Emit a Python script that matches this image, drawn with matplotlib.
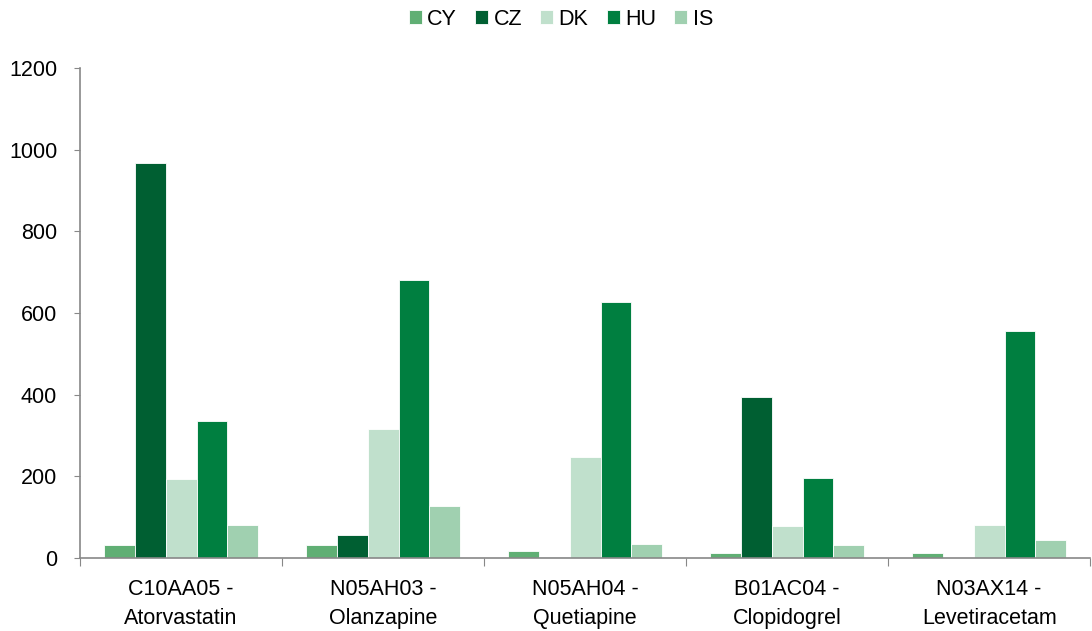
import numpy as np
import matplotlib.pyplot as plt

plt.rcParams['font.family'] = ['Liberation Sans', 'DejaVu Sans']

categories = ["C10AA05 -\nAtorvastatin", "N05AH03 -\nOlanzapine", "N05AH04 -\nQuetiapine",
              "B01AC04 -\nClopidogrel", "N03AX14 -\nLevetiracetam"]
countries = ["CY", "CZ", "DK", "HU", "IS"]
cy = [32, 32, 18, 12, 12]
cz = [968, 56, 3, 395, 0]
dk = [193, 315, 247, 78, 80]
hu = [335, 680, 628, 197, 557]
is_ = [80, 127, 34, 32, 44]
series = [cy, cz, dk, hu, is_]
colors = ["#60AF74", "#005F32", "#C0E0CC", "#007F40", "#A0D0B0"]

fig = plt.figure(figsize=(10.92, 6.31), dpi=100)
ax = fig.add_axes([0.0733, 0.1157, 0.925, 0.7765])

x = np.arange(len(categories))
w = 0.153
for i, (vals, c, name) in enumerate(zip(series, colors, countries)):
    ax.bar(x + (i - 2) * w, vals, w, color=c, label=name, edgecolor='white', linewidth=0.6)

ax.set_xlim(-0.5, 4.5)
ax.set_ylim(0, 1200)
ax.set_yticks(range(0, 1201, 200))

# group boundaries get the tick marks, category names sit in between
ax.set_xticks(np.arange(-0.5, 5, 1))
ax.set_xticklabels([])
ax.set_xticks(x, minor=True)
ax.set_xticklabels(categories, minor=True, linespacing=1.5)
ax.tick_params(axis='x', which='minor', length=0, pad=15, labelsize=15.5)
ax.tick_params(axis='x', which='major', length=6, color='#888888')
ax.tick_params(axis='y', length=4, color='#888888', labelsize=15.5, pad=12.5)

for s in ['top', 'right']:
    ax.spines[s].set_visible(False)
for s in ['left', 'bottom']:
    ax.spines[s].set_color('#888888')
    ax.spines[s].set_linewidth(1.2)

ax.legend(loc='center', bbox_to_anchor=(0.476, 1.1), ncol=5, frameon=False,
          fontsize=15.5, handlelength=0.6, handleheight=0.6, handletextpad=0.25,
          columnspacing=0.85)

fig.savefig('out.png', dpi=100)
